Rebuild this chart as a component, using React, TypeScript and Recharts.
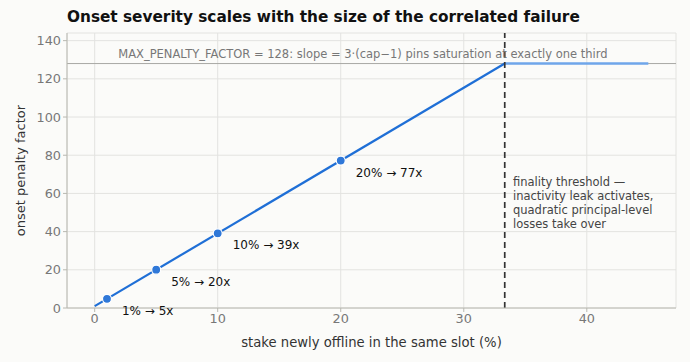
import {
  ComposedChart,
  Line,
  XAxis,
  YAxis,
  CartesianGrid,
  ReferenceLine,
  ReferenceDot,
} from "recharts";

// onset factor: rises 3·(cap−1)/100 per % offline, saturates at the cap
const rampPct = [0, 33.33];
const rampFactor = [1, 128];
const capPct = [33.33, 45];
const capFactor = [128, 128];

const samplePct = [1, 5, 10, 20];
const sampleFactor = [4.81, 20.05, 39.1, 77.2];

const xTicks = [0, 10, 20, 30, 40];
const yTicks = [0, 20, 40, 60, 80, 100, 120, 140];

const MAX_PENALTY_FACTOR = 128;
const FINALITY_PCT = 33.33;

const noteLines = [
  "finality threshold —",
  "inactivity leak activates,",
  "quadratic principal-level",
  "losses take over",
];

const ramp = rampPct.map((x, i) => ({ x, y: rampFactor[i] }));
const capped = capPct.map((x, i) => ({ x, y: capFactor[i] }));
const samples = samplePct.map((x, i) => ({ x, y: sampleFactor[i] }));

const FONT = "'DejaVu Sans', sans-serif";
const BLUE = "#1f6fd6";

function SampleDot(props: any) {
  const { cx, cy } = props;
  if (cx == null || cy == null) return null;
  return <circle cx={cx} cy={cy} r={4.5} fill="#2f78d8" stroke="#fff" strokeWidth={1.2} />;
}

function SampleLabel(props: any) {
  const { x, y, index } = props;
  const p = samples[index];
  return (
    <text x={x + 15} y={y + 16} fontSize={12} fill="#111" fontFamily={FONT}>
      {`${p.x}% → ${Math.round(p.y)}x`}
    </text>
  );
}

export default function App() {
  return (
    <div
      style={{
        position: "fixed",
        left: 0,
        top: 0,
        width: 690,
        height: 362,
        background: "#fbfbf9",
        fontFamily: FONT,
      }}
    >
      <div
        style={{
          position: "absolute",
          left: 67,
          top: 8,
          fontSize: 15.3,
          fontWeight: 700,
          color: "#111",
          whiteSpace: "nowrap",
        }}
      >
        Onset severity scales with the size of the correlated failure
      </div>
      <ComposedChart
        width={690}
        height={362}
        margin={{ top: 33, right: 14, bottom: 0, left: 0 }}
        style={{ fontFamily: FONT }}
      >
        <CartesianGrid stroke="#e3e3e0" strokeWidth={1} />
        <XAxis
          type="number"
          dataKey="x"
          domain={[-2.25, 47.25]}
          ticks={xTicks}
          height={54}
          stroke="#b8b8b0"
          tickSize={4}
          tick={{ fill: "#777", fontSize: 12.8 }}
          tickMargin={2}
          label={{
            value: "stake newly offline in the same slot (%)",
            position: "insideBottom",
            offset: 15,
            fill: "#333",
            fontSize: 13.2,
          }}
        />
        <YAxis
          type="number"
          dataKey="y"
          domain={[0, 144]}
          ticks={yTicks}
          width={67}
          stroke="#b8b8b0"
          tickSize={4}
          tick={{ fill: "#777", fontSize: 12.8 }}
          tickMargin={2}
          label={{
            value: "onset penalty factor",
            angle: -90,
            position: "insideLeft",
            offset: 20,
            fill: "#333",
            fontSize: 13,
            style: { textAnchor: "middle" },
          }}
        />
        <ReferenceLine y={MAX_PENALTY_FACTOR} stroke="#a8a8a4" strokeWidth={1} />
        <ReferenceDot
          x={21.8}
          y={MAX_PENALTY_FACTOR}
          r={0}
          label={(p: any) => (
            <text
              x={p.viewBox.x}
              y={p.viewBox.y - 6}
              textAnchor="middle"
              fontSize={11.5}
              fill="#777"
              fontFamily={FONT}
            >
              MAX_PENALTY_FACTOR = 128: slope = 3·(cap−1) pins saturation at exactly one third
            </text>
          )}
        />
        <Line
          data={capped}
          dataKey="y"
          stroke="#6fa6ea"
          strokeWidth={2.6}
          dot={false}
          isAnimationActive={false}
        />
        <Line
          data={ramp}
          dataKey="y"
          stroke={BLUE}
          strokeWidth={2.2}
          dot={false}
          isAnimationActive={false}
        />
        <ReferenceLine
          x={FINALITY_PCT}
          stroke="#333"
          strokeWidth={1.7}
          strokeDasharray="6 4"
        />
        <ReferenceDot
          x={34}
          y={69}
          r={0}
          label={(p: any) => (
            <text x={p.viewBox.x} y={p.viewBox.y} fontSize={11.5} fill="#444" fontFamily={FONT}>
              {noteLines.map((t, i) => (
                <tspan key={i} x={p.viewBox.x} dy={i === 0 ? 10 : 13.8}>
                  {t}
                </tspan>
              ))}
            </text>
          )}
        />
        <Line
          data={samples}
          dataKey="y"
          stroke="none"
          dot={<SampleDot />}
          activeDot={false}
          label={<SampleLabel />}
          isAnimationActive={false}
        />
      </ComposedChart>
    </div>
  );
}
